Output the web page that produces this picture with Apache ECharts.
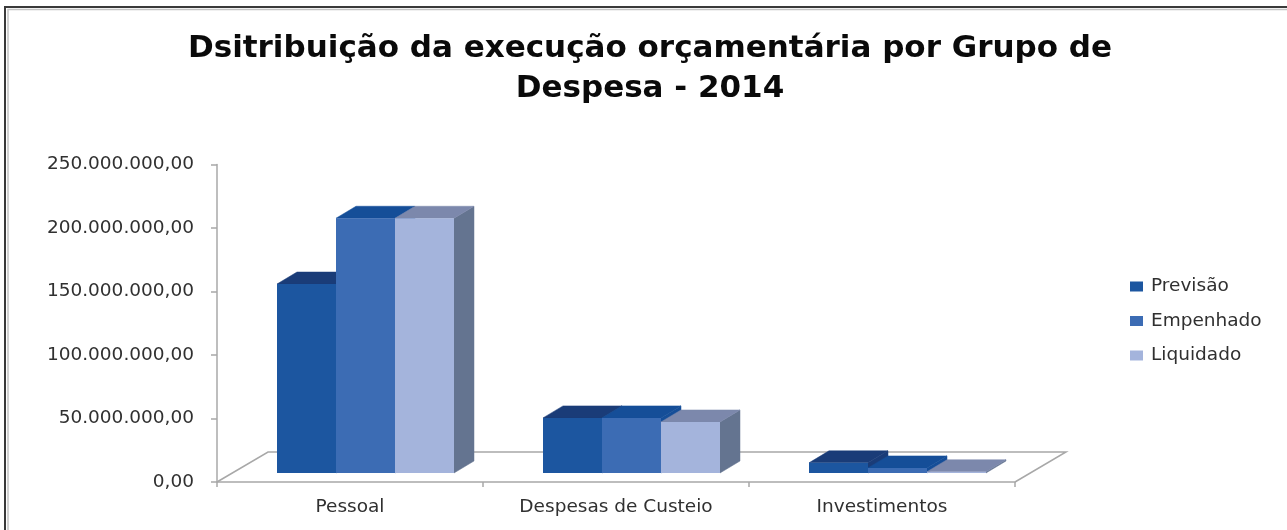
<!DOCTYPE html>
<html>
<head>
<meta charset="utf-8">
<script src="https://cdn.jsdelivr.net/npm/echarts@6/dist/echarts.min.js"></script>
<style>html,body{margin:0;padding:0;background:#fff}#c{width:1287px;height:530px}</style>
</head>
<body>
<div id="c"></div>
<script>
const titleText = 'Dsitribuição da execução orçamentária por Grupo de\nDespesa - 2014';
const categories = ['Pessoal', 'Despesas de Custeio', 'Investimentos'];
const previsao = [148800000, 43400000, 8000000];
const empenhado = [200600000, 43400000, 4000000];
const liquidado = [200600000, 40200000, 1000000];
const yTickLabels = ['0,00', '50.000.000,00', '100.000.000,00', '150.000.000,00', '200.000.000,00', '250.000.000,00'];

const DX = 20, DY = 12, FLOOR_FRONT = 9, FLOOR_DX = 51, FLOOR_DY = 30;
const BAR_FRAC = 59 / 266, SHIFT_FRAC = 15.5 / 266;

function bar3d(slot, front, top, side) {
  return function (params, api) {
    const band = api.size([1, 0])[0];
    const w = band * BAR_FRAC;
    const c = api.coord([api.value(0), api.value(1)]);
    const base = api.coord([api.value(0), 0])[1] - FLOOR_FRONT;
    const x0 = c[0] + band * SHIFT_FRAC + (slot - 1.5) * w;
    const x1 = x0 + w;
    const t = c[1] - FLOOR_FRONT;
    return {
      type: 'group',
      children: [
        { type: 'polygon', shape: { points: [[x1, base], [x1 + DX, base - DY], [x1 + DX, t - DY], [x1, t]] }, style: { fill: side, stroke: side, lineWidth: 0.5 } },
        { type: 'polygon', shape: { points: [[x0, t], [x0 + DX, t - DY], [x1 + DX, t - DY], [x1, t]] }, style: { fill: top, stroke: top, lineWidth: 0.5 } },
        { type: 'rect', shape: { x: x0, y: t, width: w, height: base - t }, style: { fill: front } }
      ]
    };
  };
}

function floor(params, api) {
  const g = params.coordSys;
  const b = g.y + g.height;
  return {
    type: 'polyline',
    shape: { points: [[g.x, b], [g.x + FLOOR_DX, b - FLOOR_DY], [g.x + g.width + FLOOR_DX, b - FLOOR_DY], [g.x + g.width, b]] },
    style: { fill: null, stroke: '#a8a8a8', lineWidth: 1.5 }
  };
}

const toData = arr => arr.map((v, i) => [i, v]);
const font = '"DejaVu Sans"';

const chart = echarts.init(document.getElementById('c'), null, { renderer: 'canvas' });
chart.setOption({
  animation: false,
  backgroundColor: '#fff',
  title: {
    text: titleText, left: 645, top: 24, textAlign: 'center',
    textStyle: { fontFamily: font, fontWeight: 'bold', fontSize: 31, lineHeight: 40, color: '#0a0a0a' }
  },
  legend: {
    orient: 'vertical', left: 1125, top: 272, icon: 'rect',
    itemWidth: 13, itemHeight: 10, itemGap: 15.5,
    data: ['Previsão', 'Empenhado', 'Liquidado'],
    textStyle: { fontFamily: font, fontSize: 18.5, color: '#303030', padding: [0, 0, 0, 3] }
  },
  grid: { left: 217, right: 272, top: 164.5, bottom: 48 },
  xAxis: {
    type: 'category', data: categories, boundaryGap: true,
    axisLine: { lineStyle: { color: '#a8a8a8', width: 1.5 } },
    axisTick: { show: true, length: 5, alignWithLabel: false, lineStyle: { color: '#a8a8a8', width: 1.5 } },
    axisLabel: { fontFamily: font, fontSize: 18.5, color: '#303030', margin: 16, interval: 0 }
  },
  yAxis: {
    type: 'value', min: 0, max: 250000000, interval: 50000000,
    splitLine: { show: false },
    axisLine: { show: true, lineStyle: { color: '#a8a8a8', width: 1.5 } },
    axisTick: { show: true, length: 6, lineStyle: { color: '#a8a8a8', width: 1.5 } },
    axisLabel: { fontFamily: font, fontSize: 18.5, color: '#303030', margin: 23, padding: [3, 0, 0, 0], formatter: (v, i) => yTickLabels[i] }
  },
  graphic: [
    { type: 'polyline', shape: { points: [[5, 530], [5, 7], [1287, 7]] }, style: { fill: null, stroke: '#3a3a3a', lineWidth: 2 }, silent: true },
    { type: 'polyline', shape: { points: [[8, 530], [8, 9.5], [1287, 9.5]] }, style: { fill: null, stroke: '#c4c4c4', lineWidth: 1.5 }, silent: true }
  ],
  series: [
    { type: 'custom', name: 'floor', data: [[0, 0]], z: 1, silent: true, renderItem: floor, clip: false },
    { type: 'custom', name: 'Previsão', data: toData(previsao), z: 2, itemStyle: { color: '#1C56A0' }, encode: { x: 0, y: 1 }, renderItem: bar3d(0, '#1C56A0', '#1A3C78', '#1A3C78') },
    { type: 'custom', name: 'Empenhado', data: toData(empenhado), z: 3, itemStyle: { color: '#3C6CB4' }, encode: { x: 0, y: 1 }, renderItem: bar3d(1, '#3C6CB4', '#154E98', '#154E98') },
    { type: 'custom', name: 'Liquidado', data: toData(liquidado), z: 4, itemStyle: { color: '#A4B4DC' }, encode: { x: 0, y: 1 }, renderItem: bar3d(2, '#A4B4DC', '#7C88AC', '#647490') }
  ]
});
</script>
</body>
</html>
